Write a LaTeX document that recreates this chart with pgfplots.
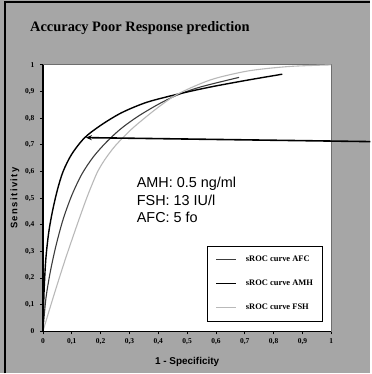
\documentclass[border=0pt]{standalone}
\usepackage{fontspec}
\setmainfont{Liberation Serif}
\newfontfamily\arial{Liberation Sans}
\usepackage{pgfplots}
\pgfplotsset{compat=1.18}
\usetikzlibrary{arrows.meta}
\definecolor{bggray}{RGB}{166,166,166}
\definecolor{afccol}{RGB}{60,60,60}
\definecolor{fshcol}{RGB}{185,185,185}
\definecolor{framegray}{RGB}{110,110,110}
\begin{document}
\begin{tikzpicture}
\fill[bggray] (0,0) rectangle (371bp,374bp);
\draw[black, line width=1.5bp] (5bp,0) -- (5bp,372bp) -- (371bp,372bp);
\node[anchor=base west, inner sep=0pt, font=\bfseries\fontsize{14.5}{16}\selectfont] at (30bp,342bp) {Accuracy Poor Response prediction};
\begin{axis}[
  at={(43bp,42bp)}, anchor=south west,
  scale only axis, width=289bp, height=267bp,
  xmin=0, xmax=1, ymin=0, ymax=1,
  clip=false,
  axis background/.style={fill=white},
  axis line style={framegray, line width=0.8bp},
  xtick={0,0.1,...,1.01}, ytick={0,0.1,...,1.01},
  xticklabels={0,{0,1},{0,2},{0,3},{0,4},{0,5},{0,6},{0,7},{0,8},{0,9},1},
  yticklabels={0,{0,1},{0,2},{0,3},{0,4},{0,5},{0,6},{0,7},{0,8},{0,9},1},
  xtick pos=bottom, ytick pos=left,
  tick align=outside, major tick length=3bp,
  tick style={black, line width=0.8bp},
  ticklabel style={font=\bfseries\fontsize{7.5}{8}\selectfont},
  xticklabel style={yshift=-1bp},
  yticklabel style={xshift=-2bp},
  xlabel={\arial\bfseries 1 - Specificity},
  ylabel={\arial\bfseries\addfontfeature{LetterSpace=15}Sensitivity},
  xlabel style={at={(rel axis cs:0.5,-0.116)}, anchor=center, font=\fontsize{10}{12}\selectfont},
  ylabel style={at={(rel axis cs:-0.097,0.5)}, anchor=center, rotate=0, font=\fontsize{9.5}{11}\selectfont},
  legend cell align=left,
  legend style={at={(rel axis cs:0.969,0.037)}, anchor=south east,
    draw=black, line width=0.8bp, fill=white,
    font=\bfseries\fontsize{8.5}{9}\selectfont,
    inner xsep=8bp, inner ysep=9bp, row sep=15bp, column sep=8bp,
    nodes={inner sep=1bp}},
  legend image code/.code={\draw[#1] (0bp,0bp) -- (20bp,0bp);},
]
\addplot[afccol, line width=1.1bp, smooth] coordinates {
 (0,0) (0.01,0.12) (0.025,0.22) (0.045,0.32) (0.07,0.42) (0.1,0.51)
 (0.135,0.59) (0.175,0.655) (0.22,0.71) (0.27,0.76) (0.33,0.807) (0.4,0.852)
 (0.46,0.884) (0.543,0.916) (0.68,0.953)};
\addlegendentry{sROC curve AFC}
\addplot[black, line width=1.4bp, smooth] coordinates {
 (0,0) (0.004,0.15) (0.01,0.27) (0.02,0.37) (0.033,0.45) (0.05,0.53)
 (0.07,0.6) (0.1,0.665) (0.145,0.727) (0.203,0.775) (0.272,0.82)
 (0.353,0.857) (0.433,0.881) (0.52,0.903) (0.60,0.921) (0.716,0.944) (0.83,0.965)};
\addlegendentry{sROC curve AMH}
\addplot[fshcol, line width=1.1bp, smooth] coordinates {
 (0,0) (0.035,0.125) (0.076,0.265) (0.117,0.395) (0.15,0.495) (0.17,0.55)
 (0.19,0.6) (0.215,0.645) (0.249,0.694) (0.285,0.735) (0.318,0.769)
 (0.388,0.831) (0.457,0.884) (0.53,0.922) (0.60,0.95) (0.716,0.978)
 (0.855,0.994) (1,1)};
\addlegendentry{sROC curve FSH}
\draw[black, line width=1.6bp] (rel axis cs:0,1) -- (rel axis cs:0,0) -- (rel axis cs:1,0);
\draw[black, line width=1.6bp, -{Stealth[length=6bp,width=5bp]}] (axis cs:1.135,0.712) -- (axis cs:0.149,0.727);
\node[anchor=base west, inner sep=0pt, font=\arial\fontsize{14.5}{16}\selectfont] at (axis cs:0.325,0.541) {AMH: 0.5 ng/ml};
\node[anchor=base west, inner sep=0pt, font=\arial\fontsize{14.5}{16}\selectfont] at (axis cs:0.325,0.474) {FSH: 13 IU/l};
\node[anchor=base west, inner sep=0pt, font=\arial\fontsize{14.5}{16}\selectfont] at (axis cs:0.325,0.410) {AFC: 5 fo};
\end{axis}
\end{tikzpicture}
\end{document}
